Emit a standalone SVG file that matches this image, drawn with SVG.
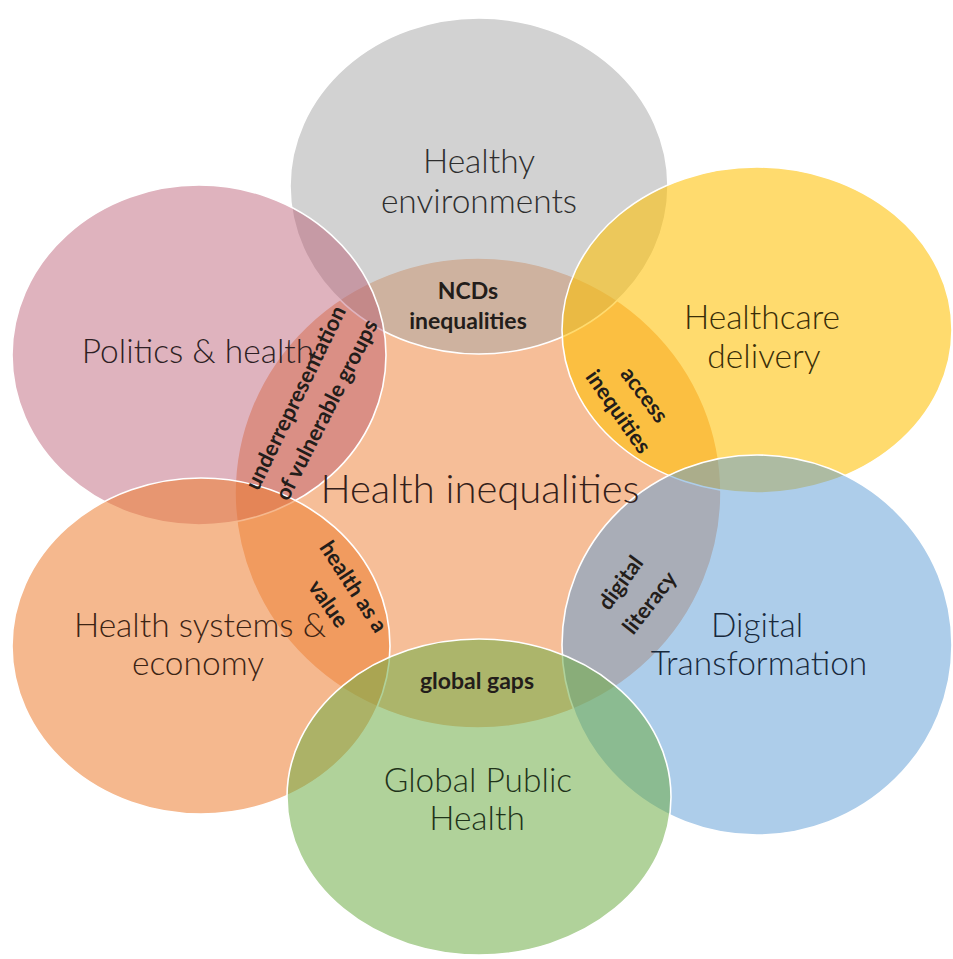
<svg xmlns="http://www.w3.org/2000/svg" width="953" height="959" viewBox="0 0 953 959">
<style>
.c{stroke:#ffffff;stroke-width:1.6}
.big{font-family:Lato,"Open Sans","Liberation Sans",sans-serif;font-weight:300;font-size:33.5px;text-anchor:middle}
.title{font-size:40px}
.sm{font-family:Lato,"Liberation Sans",sans-serif;font-weight:700;font-size:22px;fill:#231d1a;text-anchor:middle}
.h{font-size:23px}
</style>
<rect width="953" height="959" fill="#ffffff"/>
<g id="center"><ellipse class="c" cx="478" cy="493" rx="243" ry="235" fill="#ED7D31" fill-opacity="0.5"/></g>
<g id="healthy-environments"><ellipse class="c" cx="479" cy="186" rx="189" ry="168" fill="#A5A5A5" fill-opacity="0.5"/></g>
<g id="politics"><ellipse class="c" cx="199" cy="355" rx="187" ry="170" fill="#B8566E" fill-opacity="0.45"/></g>
<g id="health-systems"><ellipse class="c" cx="201" cy="646" rx="189" ry="168" fill="#ED7D31" fill-opacity="0.55"/></g>
<g id="healthcare"><ellipse class="c" cx="757" cy="330" rx="195" ry="163" fill="#FFC000" fill-opacity="0.57"/></g>
<g id="digital"><ellipse class="c" cx="757" cy="645" rx="195" ry="190" fill="#5B9BD5" fill-opacity="0.5"/></g>
<g id="global"><ellipse class="c" cx="479" cy="797" rx="192" ry="158" fill="#70AD47" fill-opacity="0.55"/></g>

<g id="labels">
<text class="big" x="479" y="173" fill="#2e2e2e">Healthy</text>
<text class="big" x="479" y="213" fill="#2e2e2e">environments</text>
<text class="big" x="198" y="363" fill="#2e1f24">Politics &amp; health</text>
<text class="big" x="762" y="329" fill="#3a2e08">Healthcare</text>
<text class="big" x="764" y="368" fill="#3a2e08">delivery</text>
<text class="big title" x="480" y="503" fill="#33201a">Health inequalities</text>
<text class="big" x="200" y="637" fill="#3d2414">Health systems &amp;</text>
<text class="big" x="198" y="675" fill="#3d2414">economy</text>
<text class="big" x="757" y="637" fill="#18293c">Digital</text>
<text class="big" x="759" y="675" fill="#18293c">Transformation</text>
<text class="big" x="478" y="792" fill="#1f331a">Global Public</text>
<text class="big" x="477" y="830" fill="#1f331a">Health</text>

<text class="sm h" x="468" y="299">NCDs</text>
<text class="sm h" x="468" y="329">inequalities</text>
<text class="sm h" x="477" y="689">global gaps</text>
<g transform="translate(296,398) rotate(-64)"><text class="sm" x="0" y="7">underrepresentation</text></g>
<g transform="translate(327,410) rotate(-63)"><text class="sm" x="0" y="7">of vulnerable groups</text></g>
<g transform="translate(644,395) rotate(53)"><text class="sm" x="0" y="7">access</text></g>
<g transform="translate(618,412) rotate(55)"><text class="sm" x="0" y="7">inequities</text></g>
<g transform="translate(353,587) rotate(57)"><text class="sm" x="0" y="7">health as a</text></g>
<g transform="translate(328,604) rotate(55)"><text class="sm" x="0" y="7">value</text></g>
<g transform="translate(621,583) rotate(-54)"><text class="sm" x="0" y="7">digital</text></g>
<g transform="translate(650,603) rotate(-52)"><text class="sm" x="0" y="7">literacy</text></g>
</g>
</svg>
